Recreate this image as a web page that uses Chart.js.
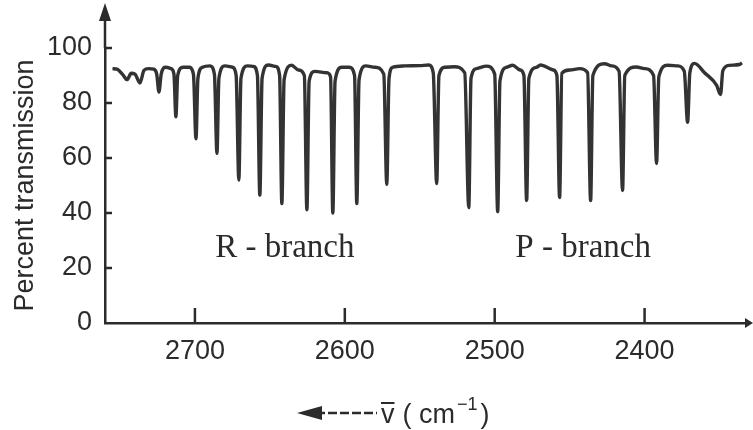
<!DOCTYPE html>
<html>
<head>
<meta charset="utf-8">
<script src="https://cdn.jsdelivr.net/npm/chart.js@4/dist/chart.umd.min.js"></script>
<style>
  body { margin: 0; background: #fff; }
  canvas { display: block; }
</style>
</head>
<body>
<canvas id="spectrum" width="753" height="430"></canvas>
<script>
// wavenumber (cm-1), high to low
const wavenumber = [
  2755, 2752, 2748, 2745.3, 2742.5, 2740, 2736.7, 2734, 2731,
  2727.5, 2725.5, 2724, 2722.5, 2719.5,
  2716, 2714, 2712.7, 2711.5, 2708,
  2704, 2701, 2699.3, 2698, 2695,
  2690, 2687, 2685.3, 2684, 2680,
  2675, 2672.5, 2670.7, 2669.3, 2665,
  2661, 2658.3, 2656.7, 2655.2, 2651,
  2646, 2643.5, 2642, 2640.5, 2635.5,
  2631, 2627, 2625.3, 2623.8, 2620,
  2612, 2609.5, 2608, 2606.5, 2602,
  2597, 2593.5, 2592, 2590.5, 2586,
  2580, 2574, 2572, 2570.5, 2568,
  2560, 2550, 2544, 2541, 2538.7, 2537.2, 2533,
  2527, 2520, 2517.3, 2515.8, 2512,
  2505.5, 2500, 2498, 2496.5, 2492,
  2488, 2483, 2480.5, 2478.7, 2477.2, 2472,
  2469.5, 2461, 2458.5, 2456.7, 2455.2, 2450,
  2443.3, 2438, 2436, 2434.5, 2426.7,
  2422, 2417, 2414.7, 2413.2, 2405.5,
  2400, 2394, 2392, 2390.5, 2384.7,
  2378, 2373.5, 2371.3, 2369.8, 2366.7,
  2360, 2352, 2349.3, 2347.8, 2343.3, 2336.7, 2335
];
// percent transmission at each wavenumber
const transmission = [
  92.5, 92.3, 90.2, 88.5, 90.8, 90.5, 87.3, 91.9, 92.5,
  92.3, 90.5, 84, 90.5, 93,
  92.5, 90.5, 75, 90, 93,
  93, 90.5, 67, 89, 93,
  93.5, 90.5, 61.7, 89, 93.5,
  93, 90, 52, 89, 93.5,
  93.3, 90, 46.4, 89, 93.8,
  93.3, 90, 43.4, 88.5, 93.7,
  92, 90, 41.2, 88, 91.5,
  91, 89.5, 40, 88, 93,
  93, 90, 43.4, 88.5, 93.5,
  93, 90.5, 50.4, 89, 93,
  93.5, 93.6, 93.8, 91, 50.7, 90, 93,
  93.2, 91, 42, 89, 92.5,
  93.4, 90.5, 40.5, 88, 93,
  93.7, 92, 90, 44.5, 89, 93,
  93.8, 92, 90, 45.6, 90.8, 92,
  92.5, 91, 44.5, 90, 94.3,
  93.5, 91.5, 48.2, 90, 93.1,
  92.5, 90, 58, 89.5, 93.7,
  93.5, 91.5, 73, 91, 94.4,
  91, 86.5, 83.1, 91.8, 93.7, 94, 94.6
];
const xTickValues = [2700, 2600, 2500, 2400];
const yTickValues = [0, 20, 40, 60, 80, 100];
const branchLabels = ['R - branch', 'P - branch'];

const ink = '#2b2b2b';
const sans = '"Liberation Sans", Arial, Helvetica, sans-serif';
const serif = '"Liberation Serif", "Times New Roman", serif';

function seg(ctx, x1, y1, x2, y2) {
  ctx.beginPath();
  ctx.moveTo(x1, y1);
  ctx.lineTo(x2, y2);
  ctx.stroke();
}

const axisDecor = {
  id: 'axisDecor',
  afterDraw(chart) {
    const { ctx, chartArea: a, scales: { x, y } } = chart;
    ctx.save();
    ctx.strokeStyle = ink;
    ctx.fillStyle = ink;
    ctx.lineWidth = 2.5;

    // inward tick marks
    x.ticks.forEach(t => {
      const px = x.getPixelForValue(t.value);
      seg(ctx, px, a.bottom, px, a.bottom - 15);
    });
    y.ticks.forEach(t => {
      if (t.value === 0) return;
      const py = y.getPixelForValue(t.value);
      seg(ctx, a.left, py, a.left + 7, py);
    });

    // arrow on top of y axis
    seg(ctx, a.left, a.top, a.left, 18);
    ctx.beginPath();
    ctx.moveTo(a.left, 3);
    ctx.lineTo(a.left - 6, 21);
    ctx.lineTo(a.left + 6, 21);
    ctx.closePath();
    ctx.fill();

    // arrow at right end of x axis
    seg(ctx, a.right, a.bottom, 748, a.bottom);
    ctx.beginPath();
    ctx.moveTo(753, a.bottom);
    ctx.lineTo(745, a.bottom - 5);
    ctx.lineTo(745, a.bottom + 5);
    ctx.closePath();
    ctx.fill();

    // branch labels
    ctx.font = '33px ' + serif;
    ctx.textAlign = 'center';
    ctx.textBaseline = 'alphabetic';
    ctx.fillText(branchLabels[0], x.getPixelForValue(2640), y.getPixelForValue(24));
    ctx.fillText(branchLabels[1], x.getPixelForValue(2441), y.getPixelForValue(24));

    // bottom label: <---- v-bar ( cm^-1 )
    const by = 413;
    ctx.save();
    ctx.setLineDash([9, 3]);
    seg(ctx, 316, by, 377, by);
    ctx.restore();
    ctx.beginPath();
    ctx.moveTo(297, by);
    ctx.lineTo(322, by - 7);
    ctx.lineTo(322, by + 7);
    ctx.closePath();
    ctx.fill();

    ctx.textAlign = 'left';
    ctx.font = '27px ' + sans;
    const base = 423;
    let cx = 381;
    ctx.fillText('v', cx, base);
    const vw = ctx.measureText('v').width;
    ctx.lineWidth = 2;
    seg(ctx, cx, 403, cx + vw, 403);
    cx += vw + 8;
    ctx.fillText('( cm', cx, base);
    cx += ctx.measureText('( cm').width + 2;
    ctx.font = '18px ' + sans;
    ctx.fillText('\u22121', cx, 410);
    cx += ctx.measureText('\u22121').width + 3;
    ctx.font = '27px ' + sans;
    ctx.fillText(')', cx, base);
    ctx.restore();
  }
};

new Chart(document.getElementById('spectrum').getContext('2d'), {
  type: 'line',
  data: {
    datasets: [{
      data: wavenumber.map((w, i) => ({ x: w, y: transmission[i] })),
      borderColor: '#333333',
      borderWidth: 3.4,
      pointRadius: 0,
      cubicInterpolationMode: 'monotone',
      fill: false
    }]
  },
  options: {
    responsive: false,
    animation: false,
    layout: { padding: { top: 48, right: 5, left: 0, bottom: 0 } },
    plugins: { legend: { display: false }, tooltip: { enabled: false } },
    scales: {
      x: {
        type: 'linear',
        reverse: true,
        min: 2331,
        max: 2760,
        afterBuildTicks: s => { s.ticks = xTickValues.map(v => ({ value: v })); },
        afterFit: s => { s.height = 107; },
        grid: { display: false, drawTicks: false },
        border: { display: true, color: ink, width: 2.5 },
        ticks: {
          color: ink,
          padding: 12,
          maxRotation: 0,
          font: { family: sans, size: 27 },
          callback: v => String(v)
        }
      },
      y: {
        min: 0,
        max: 100,
        afterBuildTicks: s => { s.ticks = yTickValues.map(v => ({ value: v })); },
        afterFit: s => { s.width = 105; },
        grid: { display: false, drawTicks: false },
        border: { display: true, color: ink, width: 2.5 },
        ticks: {
          color: ink,
          padding: 13,
          font: { family: sans, size: 27 }
        },
        title: {
          display: true,
          text: 'Percent transmission',
          color: ink,
          padding: { top: 9, bottom: 0 },
          font: { family: sans, size: 27 }
        }
      }
    }
  },
  plugins: [axisDecor]
});
</script>
</body>
</html>
